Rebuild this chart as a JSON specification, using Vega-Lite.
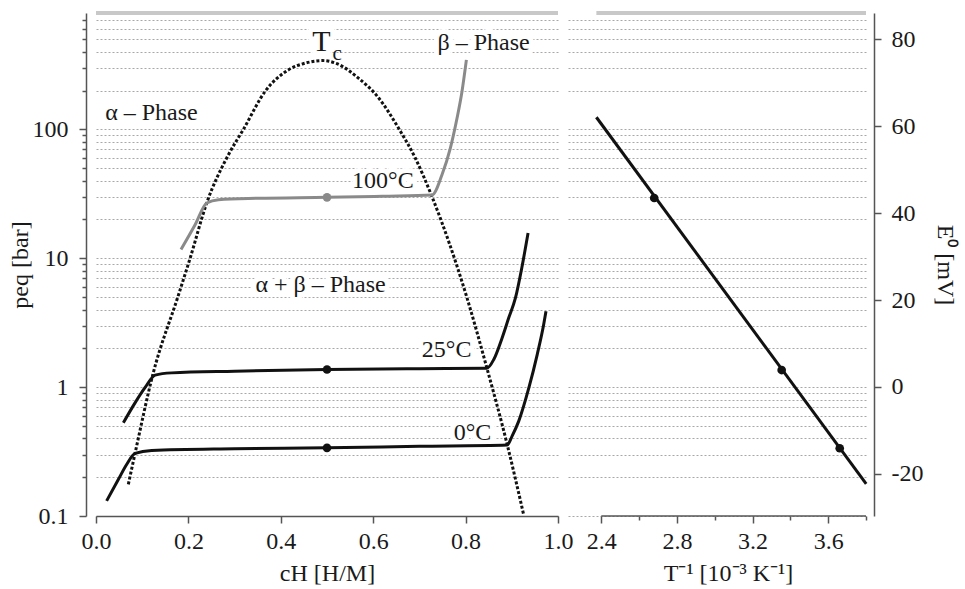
{
  "$schema": "https://vega.github.io/schema/vega-lite/v6.json",
  "padding": {"left": 8, "top": 11, "right": 12, "bottom": 3},
  "background": "white",
  "config": {
    "font": "Liberation Serif",
    "view": {"stroke": null},
    "axis": {
      "labelFont": "Liberation Serif", "titleFont": "Liberation Serif",
      "labelFontSize": 24, "titleFontSize": 24, "titleFontWeight": "normal",
      "labelColor": "#1a1a1a", "titleColor": "#1a1a1a",
      "domainColor": "#555555", "tickColor": "#555555",
      "domainWidth": 1.5, "tickWidth": 1.5, "labelFlush": false,
      "gridColor": "#a8a8a8", "gridDash": [2, 2], "gridWidth": 1
    },
    "text": {"font": "Liberation Serif"}
  },
  "spacing": 10,
  "bounds": "flush",
  "datasets": {
    "tc": [
      {"c": 0.070, "p": 0.176}, {"c": 0.0845, "p": 0.306}, {"c": 0.1227, "p": 1.24},
      {"c": 0.1786, "p": 5.2}, {"c": 0.2037, "p": 10}, {"c": 0.2397, "p": 26.9},
      {"c": 0.2867, "p": 63.6}, {"c": 0.319, "p": 100}, {"c": 0.366, "p": 197},
      {"c": 0.4167, "p": 290}, {"c": 0.455, "p": 328}, {"c": 0.49, "p": 342},
      {"c": 0.52, "p": 325}, {"c": 0.568, "p": 250}, {"c": 0.612, "p": 175},
      {"c": 0.655, "p": 102}, {"c": 0.691, "p": 60}, {"c": 0.727, "p": 30.2},
      {"c": 0.803, "p": 4.93}, {"c": 0.846, "p": 1.41}, {"c": 0.890, "p": 0.359},
      {"c": 0.926, "p": 0.101}
    ],
    "iso": [
      {"T": "100°C", "c": 0.184, "p": 11.7}, {"T": "100°C", "c": 0.2145, "p": 18.2},
      {"T": "100°C", "c": 0.2397, "p": 26.8}, {"T": "100°C", "c": 0.265, "p": 28.5},
      {"T": "100°C", "c": 0.35, "p": 29.2}, {"T": "100°C", "c": 0.5, "p": 29.7},
      {"T": "100°C", "c": 0.62, "p": 30.3}, {"T": "100°C", "c": 0.7272, "p": 30.9},
      {"T": "100°C", "c": 0.7489, "p": 44.5}, {"T": "100°C", "c": 0.767, "p": 71.6},
      {"T": "100°C", "c": 0.7814, "p": 122}, {"T": "100°C", "c": 0.7922, "p": 197},
      {"T": "100°C", "c": 0.8017, "p": 346},
      {"T": "25°C", "c": 0.0592, "p": 0.529}, {"T": "25°C", "c": 0.0845, "p": 0.755},
      {"T": "25°C", "c": 0.106, "p": 0.99}, {"T": "25°C", "c": 0.128, "p": 1.24},
      {"T": "25°C", "c": 0.164, "p": 1.29}, {"T": "25°C", "c": 0.3, "p": 1.33},
      {"T": "25°C", "c": 0.5, "p": 1.37}, {"T": "25°C", "c": 0.7, "p": 1.39},
      {"T": "25°C", "c": 0.846, "p": 1.40}, {"T": "25°C", "c": 0.861, "p": 1.64},
      {"T": "25°C", "c": 0.879, "p": 2.41}, {"T": "25°C", "c": 0.8934, "p": 3.45},
      {"T": "25°C", "c": 0.9079, "p": 4.92}, {"T": "25°C", "c": 0.9216, "p": 8.41},
      {"T": "25°C", "c": 0.9352, "p": 15.7},
      {"T": "0°C", "c": 0.023, "p": 0.131}, {"T": "0°C", "c": 0.0483, "p": 0.192},
      {"T": "0°C", "c": 0.0663, "p": 0.251}, {"T": "0°C", "c": 0.0845, "p": 0.306},
      {"T": "0°C", "c": 0.1205, "p": 0.323}, {"T": "0°C", "c": 0.3, "p": 0.332},
      {"T": "0°C", "c": 0.5, "p": 0.338}, {"T": "0°C", "c": 0.7, "p": 0.347},
      {"T": "0°C", "c": 0.890, "p": 0.355}, {"T": "0°C", "c": 0.9006, "p": 0.417},
      {"T": "0°C", "c": 0.915, "p": 0.545}, {"T": "0°C", "c": 0.937, "p": 0.99},
      {"T": "0°C", "c": 0.955, "p": 1.79}, {"T": "0°C", "c": 0.969, "p": 3.06},
      {"T": "0°C", "c": 0.974, "p": 3.88}
    ],
    "dots": [
      {"T": "100°C", "c": 0.5, "p": 29.7},
      {"T": "25°C", "c": 0.5, "p": 1.37},
      {"T": "0°C", "c": 0.5, "p": 0.338}
    ],
    "labels": [
      {"label": "α – Phase", "c": 0.12, "p": 134},
      {"label": "β – Phase", "c": 0.839, "p": 467},
      {"label": "100°C", "c": 0.621, "p": 40},
      {"label": "α + β – Phase", "c": 0.486, "p": 6.22},
      {"label": "25°C", "c": 0.759, "p": 1.95},
      {"label": "0°C", "c": 0.815, "p": 0.443}
    ],
    "vanthoff": [
      {"inv": 2.374, "E": 62.1},
      {"inv": 3.801, "E": -22.3}
    ],
    "vhdots": [
      {"T": "100°C", "inv": 2.680, "E": 43.5},
      {"T": "25°C", "inv": 3.354, "E": 3.9},
      {"T": "0°C", "inv": 3.661, "E": -14.1}
    ]
  },
  "hconcat": [
    {
      "width": 462,
      "height": 503,
      "layer": [
        {
          "data": {"values": [{}]},
          "mark": {"type": "rule", "color": "#c8c8c8", "strokeWidth": 4},
          "encoding": {
            "x": {"datum": 0, "type": "quantitative",
              "scale": {"domain": [0, 1], "nice": false, "zero": false},
              "axis": {"title": "cH [H/M]", "values": [0, 0.2, 0.4, 0.6, 0.8, 1], "format": ".1f",
                "labelFont": "Liberation Serif", "titleFont": "Liberation Serif",
                "tickSize": 7, "labelPadding": 6, "titlePadding": 8, "grid": false}},
            "x2": {"datum": 1},
            "y": {"datum": 800, "type": "quantitative",
              "scale": {"type": "log", "domain": [0.1, 800], "nice": false},
              "axis": {"title": "peq [bar]", "offset": 10, "grid": true,
                "labelFont": "Liberation Serif", "titleFont": "Liberation Serif",
                "values": [0.1,0.2,0.3,0.4,0.5,0.6,0.7,0.8,0.9,1,2,3,4,5,6,7,8,9,10,20,30,40,50,60,70,80,90,100,200,300,400,500,600,700],
                "format": "~g",
                "labelExpr": "indexof([0.1,1,10,100], datum.value) >= 0 ? datum.label : ''",
                "tickSize": {"condition": {"test": "indexof([0.1,1,10,100], datum.value) >= 0", "value": 7}, "value": 4},
                "labelPadding": 11, "titlePadding": 0}}
          }
        },
        {
          "data": {"name": "labels"},
          "mark": {"type": "text", "font": "Liberation Serif", "fontSize": 24, "fill": "white", "stroke": "white", "strokeWidth": 10, "strokeJoin": "round"},
          "encoding": {
            "x": {"field": "c", "type": "quantitative"},
            "y": {"field": "p", "type": "quantitative"},
            "text": {"field": "label"}
          }
        },
        {
          "data": {"values": [{"label": "T", "c": 0.488, "p": 480}]},
          "mark": {"type": "text", "font": "Liberation Serif", "fontSize": 30, "fill": "white", "stroke": "white", "strokeWidth": 10, "strokeJoin": "round"},
          "encoding": {
            "x": {"field": "c", "type": "quantitative"},
            "y": {"field": "p", "type": "quantitative"},
            "text": {"field": "label"}
          }
        },
        {
          "data": {"name": "tc"},
          "mark": {"type": "line", "color": "#111111", "strokeWidth": 3, "strokeDash": [3, 2], "interpolate": "monotone"},
          "encoding": {
            "x": {"field": "c", "type": "quantitative"},
            "y": {"field": "p", "type": "quantitative"}
          }
        },
        {
          "data": {"name": "iso"},
          "mark": {"type": "line", "strokeWidth": 3, "interpolate": "monotone"},
          "encoding": {
            "x": {"field": "c", "type": "quantitative"},
            "y": {"field": "p", "type": "quantitative"},
            "color": {"field": "T", "type": "nominal", "legend": null,
              "scale": {"domain": ["100°C", "25°C", "0°C"], "range": ["#8a8a8a", "#111111", "#111111"]}}
          }
        },
        {
          "data": {"name": "dots"},
          "mark": {"type": "point", "filled": true, "size": 75, "opacity": 1},
          "encoding": {
            "x": {"field": "c", "type": "quantitative"},
            "y": {"field": "p", "type": "quantitative"},
            "color": {"field": "T", "type": "nominal", "legend": null,
              "scale": {"domain": ["100°C", "25°C", "0°C"], "range": ["#8a8a8a", "#111111", "#111111"]}}
          }
        },
        {
          "data": {"name": "labels"},
          "mark": {"type": "text", "font": "Liberation Serif", "fontSize": 24, "color": "#1a1a1a"},
          "encoding": {
            "x": {"field": "c", "type": "quantitative"},
            "y": {"field": "p", "type": "quantitative"},
            "text": {"field": "label"}
          }
        },
        {
          "data": {"values": [{"label": "T", "c": 0.488, "p": 480}]},
          "mark": {"type": "text", "font": "Liberation Serif", "fontSize": 30, "color": "#1a1a1a"},
          "encoding": {
            "x": {"field": "c", "type": "quantitative"},
            "y": {"field": "p", "type": "quantitative"},
            "text": {"field": "label"}
          }
        },
        {
          "data": {"values": [{"label": "c", "c": 0.522, "p": 385}]},
          "mark": {"type": "text", "font": "Liberation Serif", "fontSize": 21, "color": "#1a1a1a"},
          "encoding": {
            "x": {"field": "c", "type": "quantitative"},
            "y": {"field": "p", "type": "quantitative"},
            "text": {"field": "label"}
          }
        }
      ]
    },
    {
      "width": 298,
      "height": 503,
      "layer": [
        {
          "data": {"values": [{}]},
          "layer": [
            {
              "mark": {"type": "rule", "color": "#c8c8c8", "strokeWidth": 4},
              "encoding": {
                "x": {"datum": 2.374, "type": "quantitative"},
                "x2": {"datum": 3.8},
                "y": {"datum": 800, "type": "quantitative",
                  "scale": {"type": "log", "domain": [0.1, 800], "nice": false},
                  "axis": {"title": null, "grid": true, "labels": false, "ticks": false, "domain": false,
                    "values": [0.1,0.2,0.3,0.4,0.5,0.6,0.7,0.8,0.9,1,2,3,4,5,6,7,8,9,10,20,30,40,50,60,70,80,90,100,200,300,400,500,600,700]}}
              }
            },
            {
              "mark": {"type": "rule", "color": "#555555", "strokeWidth": 1.5},
              "encoding": {
                "x": {"datum": 2.4, "type": "quantitative"},
                "x2": {"datum": 3.8},
                "y": {"datum": 0.1, "type": "quantitative"}
              }
            }
          ]
        },
        {
          "layer": [
            {
              "data": {"name": "vanthoff"},
              "mark": {"type": "line", "color": "#111111", "strokeWidth": 3},
              "encoding": {
                "x": {"field": "inv", "type": "quantitative",
                  "scale": {"domain": [2.224, 3.8], "nice": false, "zero": false},
                  "axis": {"title": "T⁻¹ [10⁻³ K⁻¹]", "domain": false, "grid": false,
                    "labelFont": "Liberation Serif", "titleFont": "Liberation Serif",
                    "values": [2.4, 2.6, 2.8, 3.0, 3.2, 3.4, 3.6, 3.8], "format": ".1f",
                    "labelExpr": "indexof([2.4,2.8,3.2,3.6], datum.value) >= 0 ? datum.label : ''",
                    "tickSize": {"condition": {"test": "indexof([2.4,2.8,3.2,3.6], datum.value) >= 0", "value": 7}, "value": 4},
                    "labelPadding": 6, "titlePadding": 8, "titleX": 160}},
                "y": {"field": "E", "type": "quantitative",
                  "scale": {"domain": [-29.7, 86.1], "nice": false, "zero": false},
                  "axis": {"title": "E⁰ [mV]", "orient": "right", "offset": 8, "grid": false,
                    "labelFont": "Liberation Serif", "titleFont": "Liberation Serif",
                    "values": [-20, 0, 20, 40, 60, 80], "labelExpr": "'' + datum.value",
                    "tickSize": 7, "labelPadding": 10, "titleAngle": 90, "titlePadding": 10}}
              }
            },
            {
              "data": {"name": "vhdots"},
              "mark": {"type": "point", "filled": true, "size": 75, "color": "#111111", "opacity": 1},
              "encoding": {
                "x": {"field": "inv", "type": "quantitative"},
                "y": {"field": "E", "type": "quantitative"}
              }
            }
          ]
        }
      ],
      "resolve": {"scale": {"y": "independent"}}
    }
  ]
}
